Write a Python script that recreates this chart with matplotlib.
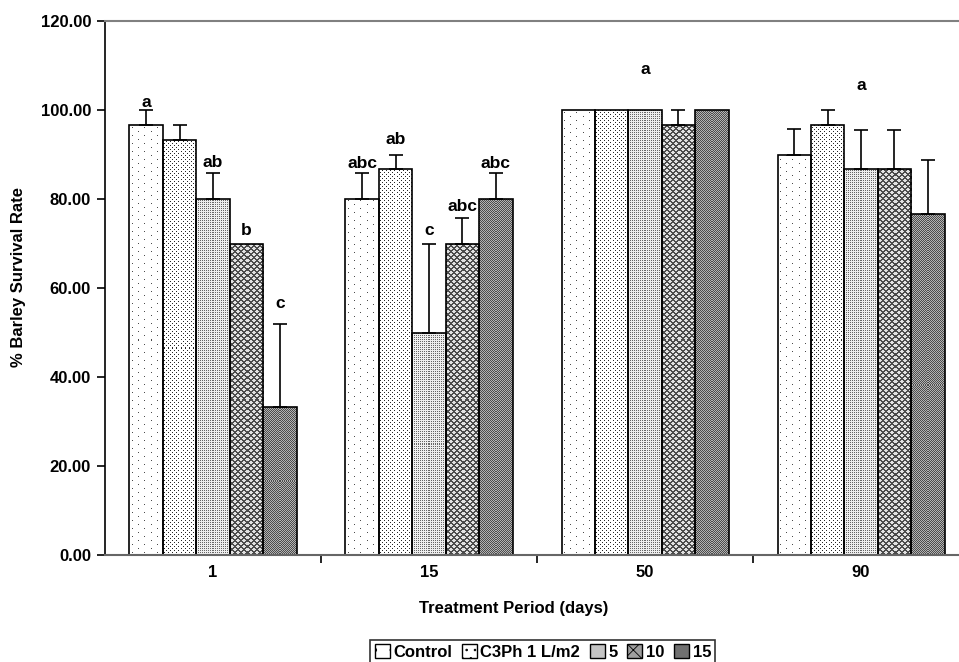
import numpy as np
import matplotlib
matplotlib.use("Agg")
import matplotlib.pyplot as plt
from matplotlib.patches import Patch

plt.rcParams['font.family'] = ['Liberation Sans', 'DejaVu Sans']
plt.rcParams['font.weight'] = 'bold'
plt.rcParams['hatch.linewidth'] = 0.6

periods = ['1', '15', '50', '90']
treatments = ['Control', 'C3Ph 1 L/m2', '5', '10', '15']
values = {
    'Control':     [96.67, 80.00, 100.0, 90.00],
    'C3Ph 1 L/m2': [93.33, 86.67, 100.0, 96.67],
    '5':           [80.00, 50.00, 100.0, 86.67],
    '10':          [70.00, 70.00, 96.67, 86.67],
    '15':          [33.33, 80.00, 100.0, 76.67],
}
errors = {
    'Control':     [3.33, 5.77, 0.0, 5.77],
    'C3Ph 1 L/m2': [3.33, 3.33, 0.0, 3.33],
    '5':           [5.77, 20.00, 0.0, 8.82],
    '10':          [0.0, 5.77, 3.33, 8.82],
    '15':          [18.56, 5.77, 0.0, 12.02],
}
# significance letters: (period index, treatment index, text, y)
letters = [
    (0, 0, 'a', 101.8), (0, 2, 'ab', 88.3), (0, 3, 'b', 73.0), (0, 4, 'c', 56.6),
    (1, 0, 'abc', 88.0), (1, 1, 'ab', 93.3), (1, 2, 'c', 73.0), (1, 3, 'abc', 78.4), (1, 4, 'abc', 88.0),
    (2, 2, 'a', 109.2),
    (3, 2, 'a', 105.6),
]


def texture(kind, X, Y):
    if kind == 0:
        a = np.ones(X.shape)
        m = ((Y % 8 == 0) & (X % 12 == 0)) | ((Y % 8 == 4) & (X % 12 == 6))
        a[m] = 0.3
    elif kind == 1:
        a = np.ones(X.shape)
        m = ((Y % 4 == 0) & (X % 4 == 0)) | ((Y % 4 == 2) & (X % 4 == 2))
        a[m] = 0.15
    elif kind == 2:
        a = np.full(X.shape, 0.93)
        m = (X % 2 == 0) & (Y % 2 == 0)
        a[m] = 0.4
    elif kind == 3:
        a = np.full(X.shape, 0.88)
        m = ((X + Y) % 6 == 0) | ((X - Y) % 6 == 0) | ((X + Y) % 6 == 1) | ((X - Y) % 6 == 1)
        a[m] = 0.3
    else:
        a = np.full(X.shape, 0.7)
        m = (X + Y) % 2 == 0
        a[m] = 0.3
    return a


legend_styles = [
    dict(facecolor='white', hatch='.', edgecolor='black'),
    dict(facecolor='white', hatch='..', edgecolor='black'),
    dict(facecolor='#c4c4c4', edgecolor='black'),
    dict(facecolor='#9e9e9e', hatch='xx', edgecolor='black'),
    dict(facecolor='#707070', edgecolor='black'),
]

fig = plt.figure(figsize=(9.59, 6.62), dpi=100)
ax = fig.add_axes([0.1095, 0.1616, 0.901, 0.8066])
ax.set_xlim(0, 4)
ax.set_ylim(0, 120)

n = len(treatments)
bw = 0.1547
centers = np.arange(len(periods)) + 0.5
H = fig.get_size_inches()[1] * fig.dpi
for i, t in enumerate(treatments):
    xs = centers + (i - (n - 1) / 2) * bw
    bars = ax.bar(xs, values[t], bw, facecolor='none', edgecolor='black',
                  linewidth=1.2, zorder=2)
    for b in bars:
        x0, x1 = b.get_x(), b.get_x() + b.get_width()
        h = b.get_height()
        (px0, py0), (px1, py1) = ax.transData.transform([(x0, h), (x1, 0)])
        wp = max(int(round(px1 - px0)), 1)
        hp = max(int(round(py0 - py1)), 1)
        cols = np.arange(wp) + int(round(px0))
        rows = np.arange(hp) + int(round(H - py0))
        X, Y = np.meshgrid(cols, rows)
        img = ax.imshow(texture(i, X, Y), cmap='gray', vmin=0, vmax=1,
                        extent=(x0, x1, 0, h), interpolation='nearest',
                        aspect='auto', zorder=1.5)
        img.set_clip_path(b)
    ys = np.array(values[t])
    es = np.array(errors[t])
    mask = es > 0
    ax.errorbar(xs[mask], ys[mask], yerr=[np.zeros(mask.sum()), es[mask]],
                fmt='none', ecolor='black', elinewidth=1.2, capsize=5,
                capthick=1.2, zorder=3)

ax.set_xlim(0, 4)
ax.set_ylim(0, 120)

for p, ti, txt, y in letters:
    x = centers[p] + (ti - (n - 1) / 2) * bw
    ax.text(x, y, txt, ha='center', va='center', fontsize=12.5, fontweight='bold')

ax.set_yticks(np.arange(0, 121, 20))
ax.set_yticklabels([f'{v:.2f}' for v in np.arange(0, 121, 20)], fontsize=12, fontweight='bold')
ax.set_xticks([1, 2, 3])
ax.set_xticklabels([])
ax.tick_params(axis='x', length=6, width=1.2, color='black', direction='out')
ax.tick_params(axis='y', length=6, width=1.2, color='black', direction='out', pad=4)
for p, lab in zip(centers, periods):
    ax.text(p, -4, lab, ha='center', va='center', fontsize=12, fontweight='bold')

ax.spines['left'].set_color('black')
ax.spines['left'].set_linewidth(1.2)
ax.spines['bottom'].set_color('#666666')
ax.spines['bottom'].set_linewidth(1.5)
ax.spines['top'].set_color('#808080')
ax.spines['top'].set_linewidth(1.5)
ax.spines['right'].set_visible(False)

fig.text(0.019, 0.5816, '% Barley Survival Rate', rotation=90, ha='center', va='center',
         fontsize=12, fontweight='bold')
fig.text(0.5359, 1 - 609 / 662, 'Treatment Period (days)', ha='center', va='center',
         fontsize=12, fontweight='bold')

handles = [Patch(linewidth=1.0, **s) for s in legend_styles]
leg = fig.legend(handles, treatments, loc='center', bbox_to_anchor=(0.566, 1 - 652 / 662),
                 ncol=5, frameon=True, fancybox=False, edgecolor='black',
                 handlelength=0.9, handleheight=0.9, handletextpad=0.2, columnspacing=0.6,
                 borderpad=0.25, prop=dict(weight='bold', size=12))
leg.get_frame().set_linewidth(1.2)

fig.savefig('out.png', dpi=100)
